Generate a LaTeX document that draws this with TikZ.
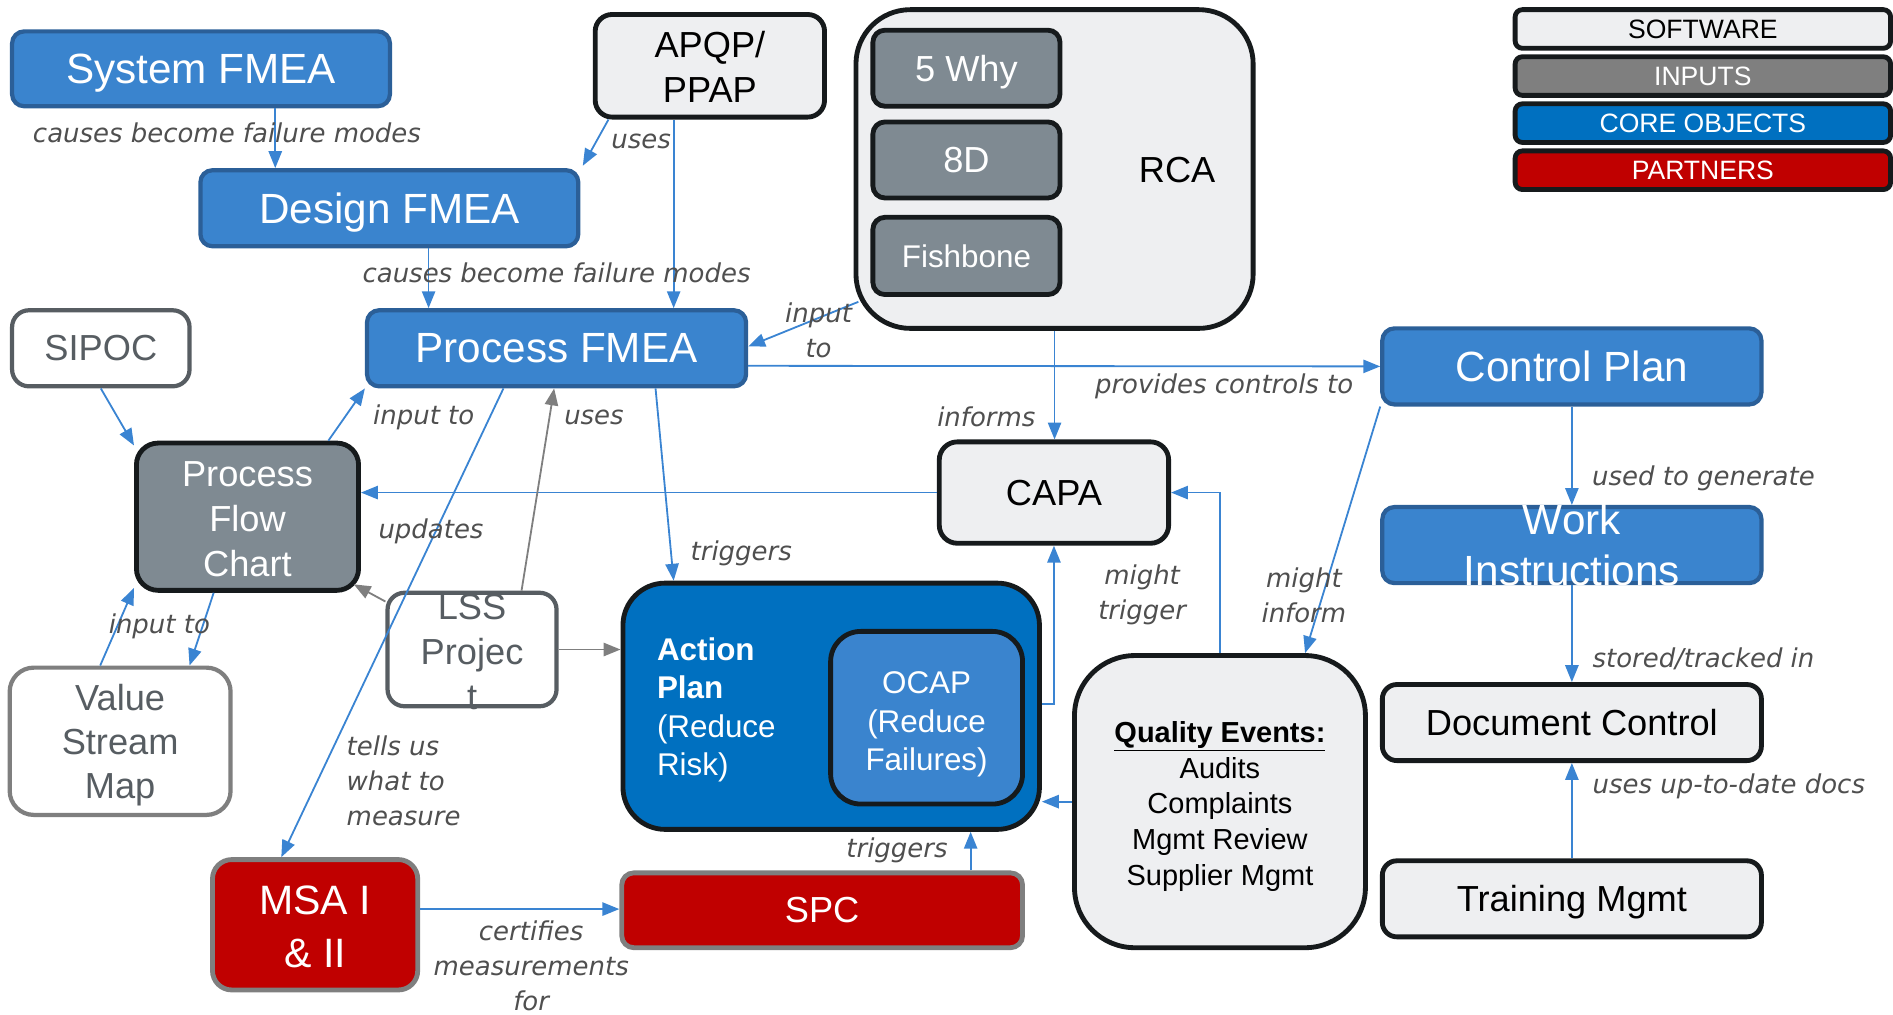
\documentclass[tikz,border=0pt]{standalone}
\usepackage{fontspec}
\setmainfont{Liberation Sans}
\newfontfamily\lblfont{DejaVu Sans}
\usetikzlibrary{arrows.meta}

\definecolor{coreblue}{HTML}{3A84CE}
\definecolor{coreedge}{HTML}{2B5F98}
\definecolor{deepblue}{HTML}{0070C0}
\definecolor{slate}{HTML}{7F8A92}
\definecolor{paper}{HTML}{EEEFF1}
\definecolor{ink}{HTML}{161A1C}
\definecolor{partred}{HTML}{C00000}
\definecolor{midgray}{HTML}{7F7F7F}
\definecolor{darkgray}{HTML}{575D62}
\definecolor{lblgray}{HTML}{4F4F4F}
\definecolor{linkblue}{HTML}{3A84D2}

\newcommand\setfs[2]{\fontsize{#1}{#2}\selectfont}

\tikzset{
  sz/.style 2 args={minimum width=#1pt, minimum height=#2pt},
  base/.style={draw, inner sep=0pt, align=center, text depth=0pt},
  coreobj/.style={base, rounded corners=10pt, fill=coreblue, draw=coreedge, line width=3.5pt, text=white, font=\setfs{35}{42}},
  software/.style={base, rounded corners=14pt, fill=paper, draw=ink, line width=4pt, text=black, font=\setfs{30}{37}},
  inputobj/.style={base, rounded corners=10pt, fill=slate, draw=ink, line width=4pt, text=white, font=\setfs{30}{37}},
  outline/.style={base, rounded corners=14pt, fill=white, draw=darkgray, line width=3.5pt, text=darkgray, font=\setfs{30}{37}},
  partner/.style={base, rounded corners=16pt, fill=partred, draw=midgray, line width=4pt, text=white, font=\setfs{30}{44}},
  legendbox/.style={base, rounded corners=6pt, draw=ink, line width=4pt, font=\setfs{22}{26}, sz={311}{32}},
  boxtext/.style={inner sep=0pt, align=center},
  link/.style={draw=linkblue, line width=1.5pt, -{Triangle[length=14pt,width=11pt]}},
  graylink/.style={draw=midgray, line width=1.5pt, -{Triangle[length=14pt,width=11pt]}},
  lbl/.style={inner sep=0pt, align=center, text=lblgray, font=\lblfont\itshape\setfs{21.5}{29}}
}

\begin{document}
\begin{tikzpicture}[x=1pt, y=-1pt]
\useasboundingbox (0,0) rectangle (1568,840);

% ---------- design chain ----------
\node[coreobj, sz={313}{62}] (sys) at (166.5,57) {System FMEA};
\node[coreobj, sz={313}{63}] (des) at (322.5,172.5) {Design FMEA};
\node[software, sz={190}{85}] (apqp) at (588,54.5) {};
\node[boxtext, font=\setfs{30}{37}] (apqptext) at ([yshift=-1pt]apqp.center) {APQP/\\PPAP};
\node[coreobj, sz={314}{63}] (pfmea) at (461,288.5) {Process FMEA};

% ---------- root cause analysis group ----------
\node[software, rounded corners=45pt, sz={329}{264}] (rca) at (873.5,140) {};
\node[inner sep=0pt, text depth=0pt, font=\setfs{30}{37}] (rcatext) at (975,141) {RCA};
\node[inputobj, sz={155}{63}] (why) at (800.5,56.5) {5 Why};
\node[inputobj, sz={155}{63}] (eightd) at (800.5,132.5) {8D};
\node[inputobj, sz={155}{64}, font=\setfs{26}{31}] (fish) at (800.5,212) {Fishbone};

% ---------- legend ----------
\node[legendbox, fill=paper, text=black] (lgsw) at (1410.5,24) {SOFTWARE};
\node[legendbox, fill=midgray, text=white] (lgin) at (1410.5,63) {INPUTS};
\node[legendbox, fill=deepblue, text=white] (lgco) at (1410.5,102) {CORE OBJECTS};
\node[legendbox, fill=partred, text=white] (lgpa) at (1410.5,141) {PARTNERS};

% ---------- process side ----------
\node[outline, sz={147}{63}] (sipoc) at (83.5,288.5) {SIPOC};
\node[inputobj, rounded corners=18pt, sz={184}{122}] (pfc) at (205,428) {};
\node[boxtext, text=white, font=\setfs{30}{37}] (pfctext) at ([yshift=-2pt]pfc.center) {Process\\Flow\\Chart};
\node[outline, draw=midgray, rounded corners=20pt, sz={183}{122}] (vsm) at (99.5,614) {};
\node[boxtext, text=darkgray, font=\setfs{30}{36.5}] (vsmtext) at ([yshift=-3.5pt]vsm.center) {Value\\Stream\\Map};
\node[outline, sz={140}{94}] (lss) at (391,538) {};
\node[boxtext, text=darkgray, font=\setfs{30}{37}] (lsstext) at ([yshift=-2pt]lss.center) {LSS\\Projec\\t};
\node[software, rounded corners=15pt, sz={190}{84}] (capa) at (873,408) {CAPA};

% ---------- action plan ----------
\node[base, rounded corners=35pt, fill=deepblue, draw=ink, line width=4pt, sz={345}{204}] (ap) at (688.5,585) {};
\node[anchor=west, inner sep=0pt, align=left, text=white, font=\setfs{26}{32}] (aptext) at (544,588) {\textbf{Action}\\\textbf{Plan}\\(Reduce\\Risk)};
\node[base, rounded corners=25pt, fill=coreblue, draw=ink, line width=4pt, sz={159}{143}] (ocap) at (767.5,594.5) {};
\node[boxtext, text=white, font=\setfs{26}{32}] (ocaptext) at ([yshift=-5.5pt]ocap.center) {OCAP\\(Reduce\\Failures)};

% ---------- quality events ----------
\node[software, rounded corners=50pt, sz={241}{242}] (qe) at (1010.5,664) {};
\node[boxtext, font=\setfs{24}{29.5}] (qetext) at ([yshift=-4pt]qe.center) {\underline{\textbf{Quality Events:}}\\Audits\\Complaints\\Mgmt Review\\Supplier Mgmt};

% ---------- right column ----------
\node[coreobj, sz={314}{63}] (cp) at (1302,303.5) {Control Plan};
\node[coreobj, sz={314}{63}] (wi) at (1302,451.5) {};
\node[boxtext, text=white, font=\setfs{35}{42}] (witext) at (wi.center) {Work\\Instructions};
\node[software, rounded corners=12pt, sz={314}{63}] (dc) at (1302,598.5) {Document Control};
\node[software, rounded corners=12pt, sz={314}{63}] (tm) at (1302,744.5) {Training Mgmt};

% ---------- partners ----------
\node[partner, sz={170}{108}] (msa) at (261,766) {};
\node[boxtext, text=white, font=\setfs{34}{44}] (msatext) at ([yshift=-2pt]msa.center) {MSA I\\\& II};
\node[partner, rounded corners=10pt, sz={332}{62}] (spc) at (681,754) {SPC};

% ---------- connectors ----------
\draw[link] ([xshift=61.5pt]sys.south) -- ([xshift=-94.5pt]des.north);
\draw[link] ([xshift=-84pt]apqp.south) -- ([xshift=2pt,yshift=2pt]des.north east);
\draw[link] ([xshift=-30pt]apqp.south) -- ([xshift=97pt]pfmea.north);
\draw[link] ([xshift=32.5pt]des.south) -- ([xshift=-106pt]pfmea.north);
\draw[link] ([xshift=4pt,yshift=-110pt]rca.west) -- ([yshift=1.5pt]pfmea.east);
\draw[link] ([yshift=-14.5pt]pfmea.east) -- (cp.west);
\draw[link] (rca.south) -- (rca.south |- capa.north);
\draw[link] (sipoc.south) -- ([yshift=-4pt]pfc.north west);
\draw[link] ([xshift=67pt]pfc.north) -- (pfmea.south west);
\draw[link] (capa.west) -- (capa.west -| pfc.east);
\draw[link] ([xshift=-44pt]pfmea.south) -- ([xshift=-28pt]msa.north);
\draw[graylink] ([xshift=41pt]lss.north) -- ([xshift=-2pt]pfmea.south);
\draw[link] ([xshift=82pt]pfmea.south) -- ([xshift=-130.5pt]ap.north);
\draw[graylink] ([yshift=-9pt]lss.north west) -- ([xshift=-6pt,yshift=7pt]pfc.south east);
\draw[graylink] (lss.east) -- (lss.east -| ap.west);
\draw[link] ([xshift=-28pt]pfc.south) -- ([xshift=57.5pt]vsm.north);
\draw[link] ([xshift=-16.5pt]vsm.north) -- ([yshift=4pt]pfc.south west);
\draw[link] ([yshift=2pt]ap.east) -| (capa.south);
\draw[link] (qe.north) |- (capa.east);
\draw[link] (cp.south west) -- ([xshift=70.5pt]qe.north);
\draw[link] (qe.west) -- (qe.west -| ap.east);
\coordinate (spcup) at ([xshift=123pt]spc.north);
\draw[link] (spcup) -- (spcup |- ap.south);
\coordinate (msaout) at ([yshift=13pt]msa.east);
\draw[link] (msaout) -- (msaout -| spc.west);
\draw[link] (cp.south) -- (wi.north);
\draw[link] (wi.south) -- (dc.north);
\draw[link] (tm.north) -- (dc.south);

% ---------- connector labels ----------
\node[lbl] (t1) at (188,110) {causes become failure modes};
\node[lbl] (t2) at (531,117) {uses};
\node[lbl] (t3) at (461,226) {causes become failure modes};
\node[lbl] (t4) at (678,274) {input\\to};
\node[lbl] (t5) at (1014,320) {provides controls to};
\node[lbl] (t6) at (817,345) {informs};
\node[lbl] (t7) at (351,346) {input to};
\node[lbl] (t8) at (492,346) {uses};
\node[lbl] (t9) at (357,440) {updates};
\node[lbl] (t10) at (614,458) {triggers};
\node[lbl] (t11) at (946,493) {might\\trigger};
\node[lbl] (t12) at (1080,493) {might\\inform};
\node[lbl] (t13) at (132,519) {input to};
\node[lbl, anchor=west, align=left] (t14) at (287,647) {tells us\\what to\\measure};
\node[lbl] (t15) at (743,704) {triggers};
\node[lbl] (t16) at (440,800) {certifies\\measurements\\for};
\node[lbl] (t17) at (1411,396) {used to generate};
\node[lbl] (t18) at (1411,546) {stored/tracked in};
\node[lbl] (t19) at (1432,651) {uses up-to-date docs};
\end{tikzpicture}
\end{document}
